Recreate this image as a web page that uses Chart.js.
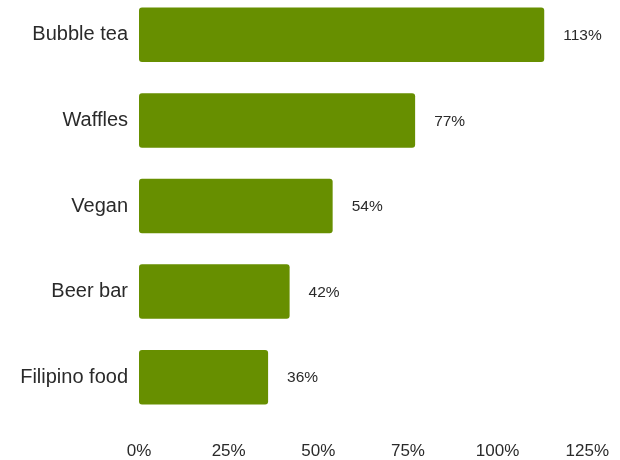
<!DOCTYPE html>
<html>
<head>
<meta charset="utf-8">
<title>Bar chart</title>
<script src="https://cdn.jsdelivr.net/npm/chart.js@4.4.1/dist/chart.umd.min.js"></script>
<style>
  html, body { margin: 0; padding: 0; background: #fff; overflow: hidden; }
  #wrap { position: absolute; left: 0; top: -31px; width: 630px; height: 491px; }
</style>
</head>
<body>
<div id="wrap"><canvas id="myChart"></canvas></div>
<script>
// category names and their shares (percent)
const categories = ["Bubble tea", "Waffles", "Vegan", "Beer bar", "Filipino food"];
const shares = [113, 77, 54, 42, 36];
const tickValues = [0, 25, 50, 75, 100, 125];

const barColor = "#678f00";
const textColor = "#2a2a2a";

// writes the value to the right of every bar
const valueLabels = {
  id: "valueLabels",
  afterDatasetsDraw(chart) {
    const ctx = chart.ctx;
    const meta = chart.getDatasetMeta(0);
    ctx.save();
    ctx.font = "15.5px 'Liberation Sans', Arial, sans-serif";
    ctx.fillStyle = textColor;
    ctx.textAlign = "left";
    ctx.textBaseline = "middle";
    meta.data.forEach((bar, i) => {
      ctx.fillText(shares[i] + "%", bar.x + 19, bar.y + 1);
    });
    ctx.restore();
  }
};

const ctx = document.getElementById("myChart").getContext("2d");
const chart = new Chart(ctx, {
  type: "bar",
  data: {
    labels: categories,
    datasets: [
      {
        data: shares,
        backgroundColor: barColor,
        borderWidth: 0,
        borderRadius: 3,
        borderSkipped: false,
        barPercentage: 0.637,
        categoryPercentage: 1
      }
    ]
  },
  options: {
    indexAxis: "y",
    responsive: true,
    maintainAspectRatio: false,
    animation: false,
    layout: { padding: 0 },
    plugins: {
      legend: { display: false },
      tooltip: { enabled: false }
    },
    scales: {
      x: {
        min: 0,
        max: 125,
        afterBuildTicks(scale) {
          scale.ticks = tickValues.map(v => ({ value: v }));
        },
        afterFit(scale) { scale.height = 40; },
        grid: { display: false, drawTicks: false },
        border: { display: false },
        ticks: {
          padding: 21,
          color: textColor,
          font: { family: "'Liberation Sans', Arial, sans-serif", size: 17 },
          callback: v => v + "%"
        }
      },
      y: {
        afterFit(scale) { scale.width = 139; },
        grid: { display: false, drawTicks: false },
        border: { display: false },
        ticks: {
          padding: 11,
          color: textColor,
          font: { family: "'Liberation Sans', Arial, sans-serif", size: 20 }
        }
      }
    }
  },
  plugins: [valueLabels]
});
</script>
</body>
</html>
